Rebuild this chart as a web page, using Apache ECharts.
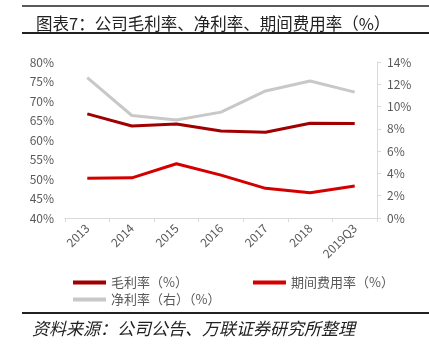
<!DOCTYPE html>
<html>
<head>
<meta charset="utf-8">
<script src="https://cdn.jsdelivr.net/npm/echarts@6/dist/echarts.min.js"></script>
<style>
  html, body { margin: 0; padding: 0; background: #fff; }
  #main { width: 429px; height: 354px; }
</style>
</head>
<body>
<div id="main"></div>
<script>
var years = ['2013', '2014', '2015', '2016', '2017', '2018', '2019Q3'];
var grossMargin = [66.7, 63.6, 64.1, 62.3, 62.0, 64.3, 64.2];
var expenseRatio = [50.2, 50.3, 53.9, 51.0, 47.6, 46.5, 48.2];
var netMargin = [12.6, 9.2, 8.8, 9.5, 11.4, 12.3, 11.3];

var leftTicks = { min: 40, max: 80, step: 5 };
var rightTicks = { min: 0, max: 14, step: 2 };

var chart = echarts.init(document.getElementById('main'));
var cjk = '"Noto Sans CJK SC", "Noto Sans", sans-serif';

var option = {
  animation: false,
  textStyle: { fontFamily: cjk },
  title: {
    text: '图表7：公司毛利率、净利率、期间费用率（%）',
    left: 31,
    top: 10,
    textStyle: { fontSize: 16.5, fontWeight: 'normal', color: '#222', fontFamily: cjk }
  },
  graphic: [
    { type: 'line', shape: { x1: 22, y1: 6, x2: 429, y2: 6 }, style: { stroke: '#222', lineWidth: 1.5 } },
    { type: 'line', shape: { x1: 22, y1: 33, x2: 429, y2: 33 }, style: { stroke: '#222', lineWidth: 2 } },
    { type: 'line', shape: { x1: 22, y1: 313, x2: 429, y2: 313 }, style: { stroke: '#222', lineWidth: 2 } },
    {
      type: 'text', left: 32, top: 320,
      style: { text: '资料来源：公司公告、万联证券研究所整理', fontSize: 17, fontStyle: 'italic', fill: '#222', fontFamily: cjk }
    }
  ],
  legend: [
    {
      data: ['毛利率（%）', '期间费用率（%）'],
      left: 68, top: 271,
      icon: 'rect', itemWidth: 33, itemHeight: 4, itemGap: 65,
      textStyle: { fontSize: 13, color: '#595959' }
    },
    {
      data: ['净利率（右）（%）'],
      left: 68, top: 288,
      icon: 'rect', itemWidth: 33, itemHeight: 4,
      textStyle: { fontSize: 13, color: '#595959' }
    }
  ],
  grid: { left: 65, right: 52, top: 62, bottom: 136 },
  xAxis: {
    type: 'category',
    data: years,
    boundaryGap: true,
    axisLine: { lineStyle: { color: '#d9d9d9', width: 1 } },
    axisTick: { show: true, length: 4, lineStyle: { color: '#d9d9d9' } },
    axisLabel: { rotate: 45, fontSize: 12, color: '#595959', margin: 8 },
    splitLine: { show: false }
  },
  yAxis: [
    {
      type: 'value',
      min: leftTicks.min, max: leftTicks.max, interval: leftTicks.step,
      axisLine: { show: false },
      axisTick: { show: false },
      splitLine: { show: false },
      axisLabel: { formatter: '{value}%', fontSize: 12, color: '#595959', margin: 11 }
    },
    {
      type: 'value',
      min: rightTicks.min, max: rightTicks.max, interval: rightTicks.step,
      position: 'right',
      axisLine: { show: true, lineStyle: { color: '#d9d9d9' } },
      axisTick: { show: true, length: 4, lineStyle: { color: '#d9d9d9' } },
      splitLine: { show: false },
      axisLabel: { formatter: '{value}%', fontSize: 12, color: '#595959', margin: 10 }
    }
  ],
  series: [
    {
      name: '毛利率（%）', type: 'line', yAxisIndex: 0,
      data: grossMargin, symbol: 'none', color: '#a00000',
      lineStyle: { width: 3, color: '#a00000' }
    },
    {
      name: '期间费用率（%）', type: 'line', yAxisIndex: 0,
      data: expenseRatio, symbol: 'none', color: '#d40000',
      lineStyle: { width: 3, color: '#d40000' }
    },
    {
      name: '净利率（右）（%）', type: 'line', yAxisIndex: 1,
      data: netMargin, symbol: 'none', color: '#c8c8c8',
      lineStyle: { width: 3, color: '#c8c8c8' }
    }
  ]
};

chart.setOption(option);
</script>
</body>
</html>
